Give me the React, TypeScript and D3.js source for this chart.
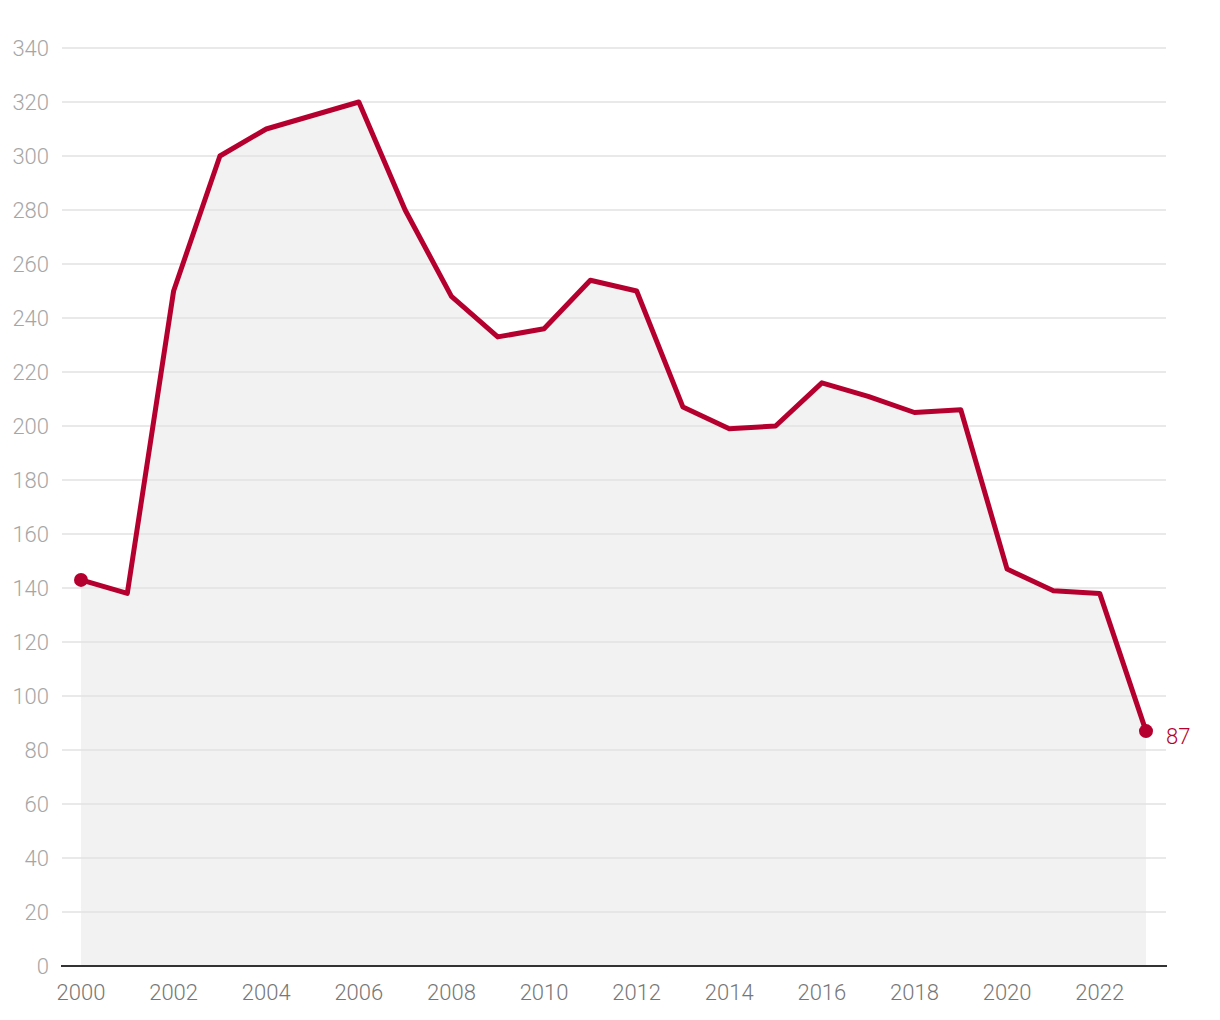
import React from "react";
import * as d3 from "d3";

const years = [2000,2001,2002,2003,2004,2005,2006,2007,2008,2009,2010,2011,2012,2013,2014,2015,2016,2017,2018,2019,2020,2021,2022,2023];
const values = [143,138,250,300,310,315,320,280,248,233,236,254,250,207,199,200,216,211,205,206,147,139,138,87];
const yTicks = [0,20,40,60,80,100,120,140,160,180,200,220,240,260,280,300,320,340];
const xTicks = [2000,2002,2004,2006,2008,2010,2012,2014,2016,2018,2020,2022];

const W = 1220, H = 1020;
const RED = "#b5002f";

export default function App() {
  const x = d3.scaleLinear().domain([2000, 2023]).range([81, 1146]);
  const y = d3.scaleLinear().domain([0, 340]).range([966, 48]);
  const pts = years.map((yr, i) => [yr, values[i]] as [number, number]);
  const line = d3.line<[number, number]>().x(d => x(d[0])).y(d => y(d[1]));
  const area = d3.area<[number, number]>().x(d => x(d[0])).y0(y(0)).y1(d => y(d[1]));
  const last = pts[pts.length - 1];
  const first = pts[0];
  return (
    <svg width={W} height={H} style={{ position: "absolute", left: 0, top: 0, fontFamily: "Roboto, sans-serif", fontWeight: 300 }}>
      <path d={area(pts) || ""} fill="#f2f2f2" />
      {yTicks.map(t => (
        <g key={t}>
          {t > 0 && <line x1={62} x2={1166} y1={y(t)} y2={y(t)} stroke="#e2e2e2" strokeWidth={1.5} />}
          <text x={49} y={y(t)} dy="0.36em" textAnchor="end" fontSize={22} fill="#a6a6a6">{t}</text>
        </g>
      ))}
      <line x1={61} x2={1167} y1={y(0)} y2={y(0)} stroke="#333" strokeWidth={2} />
      {xTicks.map(t => (
        <text key={t} x={x(t)} y={1000} textAnchor="middle" fontSize={22} fill="#777">{t}</text>
      ))}
      <path d={line(pts) || ""} fill="none" stroke={RED} strokeWidth={5} strokeLinejoin="round" strokeLinecap="round" />
      <circle cx={x(first[0])} cy={y(first[1])} r={7} fill={RED} />
      <circle cx={x(last[0])} cy={y(last[1])} r={7} fill={RED} />
      <text x={x(last[0]) + 20} y={y(last[1])} dy="0.6em" fontSize={22} fill={RED}>{last[1]}</text>
    </svg>
  );
}
